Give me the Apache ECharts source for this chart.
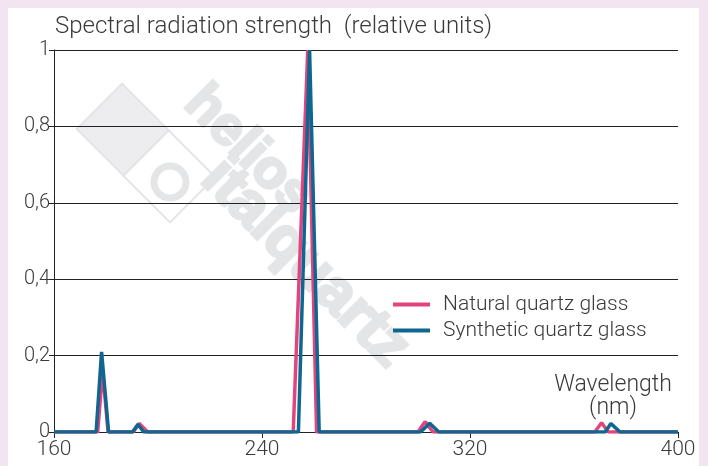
<!DOCTYPE html>
<html><head><meta charset="utf-8">
<script src="https://cdn.jsdelivr.net/npm/echarts@6/dist/echarts.min.js"></script>
<style>html,body{margin:0;padding:0;background:#f2e4f0}#c{width:708px;height:466px}</style>
</head><body><div id="c"></div>
<script>
// Wavelength (nm) and relative intensity
const naturalX = [160, 176.8, 178.7, 180.8, 190.5, 192.8, 196, 252, 257.6, 261, 300, 302.7, 305.8, 368, 370.6, 373.2, 400];
const naturalY = [0, 0, 0.16, 0, 0, 0.022, 0, 0, 1, 0, 0, 0.027, 0, 0, 0.024, 0, 0];
const syntheticX = [160, 176.2, 178.3, 181, 190.2, 192.3, 194.5, 254, 258.3, 262, 301, 304.5, 308, 372, 374.2, 377.7, 400];
const syntheticY = [0, 0, 0.21, 0, 0, 0.02, 0, 0, 1, 0, 0, 0.023, 0, 0, 0.022, 0, 0];
const xTicks = [160, 240, 320, 400];
const yTicks = [0, 0.2, 0.4, 0.6, 0.8, 1];
const seriesNames = ['Natural quartz glass', 'Synthetic quartz glass'];

const FONT = 'Roboto';
const TXT = '#3a3a3a';
const WM = '#e4e5e7';
const ROT = -45 * Math.PI / 180;
const chart = echarts.init(document.getElementById('c'), null, {renderer: 'canvas'});
const pair = (xs, ys) => xs.map((x, i) => [x, ys[i]]);
chart.setOption({
  backgroundColor: '#f2e4f0',
  animation: false,
  grid: {left: 54, right: 30, top: 50, bottom: 34},
  graphic: [
    {type: 'rect', z: -10, shape: {x: 8, y: 8, width: 691, height: 470}, style: {fill: '#ffffff'}},
    // watermark
    {type: 'rect', z: -5, x: 146, y: 153, rotation: ROT,
     shape: {x: -66, y: -32, width: 66, height: 64}, style: {fill: '#ededef', stroke: WM, lineWidth: 2}},
    {type: 'rect', z: -5, x: 146, y: 153, rotation: ROT,
     shape: {x: 0, y: -32, width: 66, height: 64}, style: {fill: 'none', stroke: WM, lineWidth: 2}},
    {type: 'circle', z: -5, shape: {cx: 170, cy: 182, r: 16}, style: {fill: 'none', stroke: WM, lineWidth: 7}},
    {type: 'text', z: -5, x: 212, y: 76, rotation: ROT,
     style: {text: 'helios', fontFamily: 'Liberation Sans', fontWeight: 'bold', fontSize: 54, fill: WM, stroke: WM, lineWidth: 3}},
    {type: 'text', z: -5, x: 232, y: 148, rotation: ROT,
     style: {text: 'italquartz', fontFamily: 'Liberation Sans', fontWeight: 'bold', fontSize: 60, fill: WM, stroke: WM, lineWidth: 3}},
    {type: 'text', x: 55, y: 15,
     style: {text: 'Spectral radiation strength  (relative units)', fontFamily: FONT, fontWeight: 300, fontSize: 24, fill: TXT}},
    {type: 'text', x: 613, y: 374,
     style: {text: 'Wavelength\n(nm)', fontFamily: FONT, fontWeight: 300, fontSize: 23, fill: TXT, align: 'center', lineHeight: 23}}
  ],
  legend: {
    orient: 'vertical', left: 388, top: 289, itemWidth: 37, itemHeight: 4, itemGap: 5,
    icon: 'rect',
    data: seriesNames,
    textStyle: {fontFamily: FONT, fontWeight: 300, fontSize: 21, color: TXT, padding: [0, 0, 0, 8]}
  },
  xAxis: {
    type: 'value', min: xTicks[0], max: xTicks[xTicks.length - 1], interval: 80,
    axisLine: {show: true, lineStyle: {color: '#222', width: 1}},
    axisTick: {show: true, length: 6, lineStyle: {color: '#222'}},
    axisLabel: {margin: 7, fontFamily: FONT, fontWeight: 300, fontSize: 21, color: TXT},
    splitLine: {show: false}
  },
  yAxis: {
    type: 'value', min: 0, max: 1, interval: 0.2,
    axisLine: {show: true, lineStyle: {color: '#222', width: 1}},
    axisTick: {show: true, length: 5, lineStyle: {color: '#222'}},
    axisLabel: {margin: 4, fontFamily: FONT, fontWeight: 300, fontSize: 20, color: TXT,
      formatter: v => String(Math.round(v * 10) / 10).replace('.', ',')},
    splitLine: {show: true, lineStyle: {color: '#222', width: 1}}
  },
  series: [
    {name: seriesNames[0], type: 'line', showSymbol: false, data: pair(naturalX, naturalY),
     color: '#e2457e', lineStyle: {width: 3.5, color: '#e2457e'}, z: 3},
    {name: seriesNames[1], type: 'line', showSymbol: false, data: pair(syntheticX, syntheticY),
     color: '#0f6690', lineStyle: {width: 3.5, color: '#0f6690'}, z: 4}
  ]
});
</script></body></html>
